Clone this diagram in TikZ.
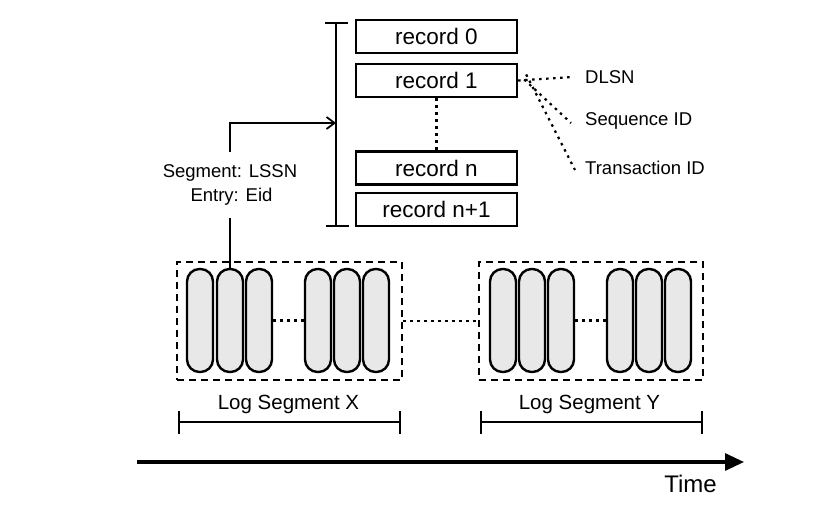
\documentclass[tikz,border=0pt]{standalone}
\usepackage{fontspec}
\setmainfont{Liberation Sans}
\usetikzlibrary{arrows.meta}
\definecolor{capfill}{HTML}{E8E8E8}
\begin{document}
\begin{tikzpicture}[x=1pt,y=-1pt,
  recbox/.style={draw,line width=2.4pt,minimum width=161pt,minimum height=33pt,inner sep=0pt,font=\fontsize{22.5}{24}\selectfont},
  capsule/.style={draw,line width=2.4pt,fill=capfill,minimum width=26pt,minimum height=103pt,inner sep=0pt,rounded corners=12.5pt},
  segbox/.style={draw,line width=2.4pt,dash pattern=on 7pt off 5pt,inner sep=0pt},
  dots/.style={line width=2.2pt,dash pattern=on 2.5pt off 4.5pt},
  lbl/.style={font=\fontsize{18.5}{24}\selectfont,inner sep=0pt},
  seglbl/.style={font=\fontsize{20.5}{24}\selectfont,inner sep=0pt},
  thick line/.style={line width=2.6pt}
]
\useasboundingbox (0,0) rectangle (833,516);

% records
\node[recbox] (r0) at (436.5,36.5) {record 0};
\node[recbox] (r1) at (436.5,80.5) {record 1};
\node[recbox] (rn) at (436.5,168) {record n};
\node[recbox] (rn1) at (436.5,209.5) {record n+1};
\draw[dots] (r1.south) -- (rn.north);

% bracket
\coordinate (bt) at (336,23);
\coordinate (bb) at (336,226);
\coordinate (bm) at (336,123);
\draw[thick line] (bt) -- (bb);
\draw[thick line] ([xshift=-11pt]bt) -- ([xshift=12pt]bt);
\draw[thick line] ([xshift=-10pt]bb) -- ([xshift=13pt]bb);

% field labels
\node[lbl,anchor=west] (dlsn) at (585,77) {DLSN};
\node[lbl,anchor=west] (seq) at (585,121) {Sequence ID};
\node[lbl,anchor=west] (tid) at (585,168) {Transaction ID};
\draw[dots] (r1.east) -- ([xshift=-12pt]dlsn.west);
\draw[dots] ([xshift=6pt,yshift=1pt]r1.east) -- ([xshift=-14pt,yshift=-2pt]seq.west);
\draw[dots] ([xshift=8pt,yshift=6pt]r1.east) -- ([xshift=-10pt,yshift=-2pt]tid.west);

% segment boxes
\node[segbox,minimum width=225pt,minimum height=118pt] (sx) at (289.5,321) {};
\node[segbox,minimum width=224pt,minimum height=118pt] (sy) at (591,321) {};
\draw[dots] (sx.east) -- (sy.west);

% capsules X
\node[capsule] (x1) at (200,320.5) {};
\node[capsule] (x2) at (230,320.5) {};
\node[capsule] (x3) at (259,320.5) {};
\node[capsule] (x4) at (318,320.5) {};
\node[capsule] (x5) at (347,320.5) {};
\node[capsule] (x6) at (376,320.5) {};
\draw[dots] (x3.east) -- (x4.west);
% capsules Y
\node[capsule] (y1) at (503,320.5) {};
\node[capsule] (y2) at (532,320.5) {};
\node[capsule] (y3) at (561,320.5) {};
\node[capsule] (y4) at (620,320.5) {};
\node[capsule] (y5) at (649,320.5) {};
\node[capsule] (y6) at (678,320.5) {};
\draw[dots] (y3.east) -- (y4.west);

% pointer label and arrow
\node[lbl,align=center,minimum height=66pt] (ptr) at (230,185) {Segment: LSSN\\\hspace*{3pt}Entry: Eid};
\draw[line width=2.2pt] (x2.north) -- (ptr.south);
\draw[line width=2.2pt,-{Straight Barb[length=8pt,width=12pt,line width=1.8pt]}] (ptr.north) |- (bm);

% segment spans
\coordinate (xl) at (179,422);
\coordinate (xr) at (400,422);
\coordinate (yl) at (481,422);
\coordinate (yr) at (702,422);
\draw[thick line] (xl) -- (xr);
\draw[thick line] ([yshift=-12pt]xl) -- ([yshift=11pt]xl);
\draw[thick line] ([yshift=-12pt]xr) -- ([yshift=11pt]xr);
\draw[thick line] (yl) -- (yr);
\draw[thick line] ([yshift=-12pt]yl) -- ([yshift=11pt]yl);
\draw[thick line] ([yshift=-12pt]yr) -- ([yshift=11pt]yr);
\node[seglbl] (lx) at (288.5,404) {Log Segment X};
\node[seglbl] (ly) at (589.5,404) {Log Segment Y};

% time axis
\coordinate (t0) at (137,462);
\coordinate (t1) at (744,462);
\draw[line width=3.2pt,-{Triangle[length=19pt,width=17pt]}] (t0) -- (t1);
\node[font=\fontsize{24}{28}\selectfont,inner sep=0pt] (time) at (690.5,484) {Time};
\end{tikzpicture}
\end{document}
